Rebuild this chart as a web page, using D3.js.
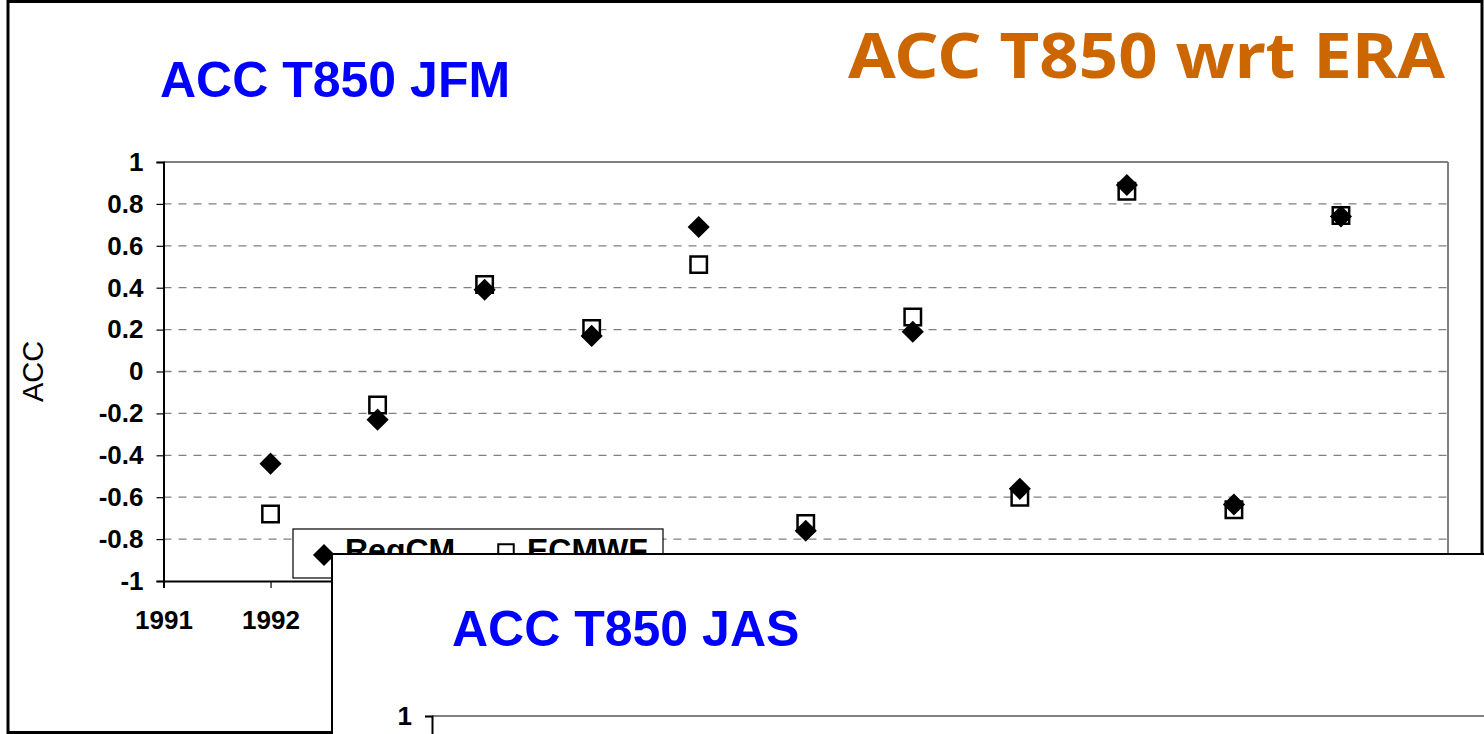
<!DOCTYPE html>
<html>
<head>
<meta charset="utf-8">
<script src="https://cdn.jsdelivr.net/npm/d3@7"></script>
<style>
  body { margin: 0; background: #fff; }
  svg { display: block; }
</style>
</head>
<body>
<div id="chart"></div>
<script>
// values
var years  = [1992, 1993, 1994, 1995, 1996, 1997, 1998, 1999, 2000, 2001, 2002];
var regcm  = [-0.44, -0.23, 0.39, 0.17, 0.69, -0.76, 0.19, -0.56, 0.89, -0.635, 0.74];
var ecmwf  = [-0.68, -0.16, 0.415, 0.205, 0.51, -0.725, 0.26, -0.60, 0.86, -0.66, 0.745];
var yTicks = [1, 0.8, 0.6, 0.4, 0.2, 0, -0.2, -0.4, -0.6, -0.8, -1];
var yTickLabels = ["1", "0.8", "0.6", "0.4", "0.2", "0", "-0.2", "-0.4", "-0.6", "-0.8", "-1"];
var xTicks = [1991, 1992, 1993, 1994, 1995, 1996, 1997, 1998, 1999, 2000, 2001, 2002, 2003];
var seriesNames = ["RegCM", "ECMWF"];

var W = 1484, H = 734;
var FONT = "'Liberation Sans', Arial, sans-serif";
var P2_LEFT = 332, P2_TOP = 554;   // lower (JAS) slide covering the first one

var svg = d3.select("#chart").append("svg")
    .attr("width", W)
    .attr("height", H);

/* outer slide frame */
svg.append("rect")
  .attr("x", 8).attr("y", 1.5)
  .attr("width", 1474).attr("height", 731)
  .style("fill", "#fff")
  .style("stroke", "#000")
  .style("stroke-width", 3);

/* titles */
svg.append("text")
  .attr("x", 160).attr("y", 97)
  .style("font", "bold 50px " + FONT)
  .style("fill", "#0000ff")
  .text("ACC T850 JFM");

svg.append("text")
  .attr("x", 848).attr("y", 78)
  .attr("textLength", 597)
  .attr("lengthAdjust", "spacingAndGlyphs")
  .style("font", "bold 62px 'Comic Sans MS', 'Noto Sans', sans-serif")
  .style("fill", "#cc6600")
  .text("ACC T850 wrt ERA");

/* top panel scales */
var x = d3.scaleLinear().domain([1991, 2003]).range([163.5, 1448]),
    y = d3.scaleLinear().domain([-1, 1]).range([581, 162]);

var vis = svg.append("g");

/* dashed grid */
vis.selectAll(".grid")
  .data(yTicks.filter(function(d){ return d > -1 && d < 1; }))
  .enter().append("line")
  .attr("class", "grid")
  .attr("x1", x(1991)).attr("x2", x(2003))
  .attr("y1", y).attr("y2", y)
  .style("stroke", "#808080")
  .style("stroke-width", 1.3)
  .style("stroke-dasharray", "8,7");

/* plot frame: top and right in gray */
vis.append("line")
  .attr("x1", x(1991)).attr("x2", x(2003))
  .attr("y1", y(1)).attr("y2", y(1))
  .style("stroke", "#808080").style("stroke-width", 2);
vis.append("line")
  .attr("x1", x(2003)).attr("x2", x(2003))
  .attr("y1", y(1)).attr("y2", y(-1))
  .style("stroke", "#808080").style("stroke-width", 2);

/* y axis */
var yAxis = vis.append("g")
  .attr("transform", "translate(" + x(1991) + ",0)")
  .call(d3.axisLeft(y).tickValues(yTicks).tickSize(7).tickPadding(13)
        .tickFormat(function(d, i){ return yTickLabels[i]; }));
yAxis.select(".domain").style("stroke", "#000").style("stroke-width", 2);
yAxis.selectAll("line").style("stroke", "#000").style("stroke-width", 1.2);
yAxis.selectAll("text")
  .style("font", "bold 26px " + FONT)
  .style("fill", "#000");

/* x axis -- labels under the lower slide are hidden there anyway */
var xAxis = vis.append("g")
  .attr("transform", "translate(0," + y(-1) + ")")
  .call(d3.axisBottom(x).tickValues(xTicks).tickSize(7).tickPadding(23)
        .tickFormat(function(d){ return x(d) + 40 < P2_LEFT ? d3.format("d")(d) : ""; }));
xAxis.select(".domain").style("stroke", "#000").style("stroke-width", 2);
xAxis.selectAll("line").style("stroke", "#000").style("stroke-width", 1.2);
xAxis.selectAll("text")
  .style("font", "bold 26px " + FONT)
  .style("fill", "#000");

/* y label */
vis.append("text")
  .attr("transform", "translate(43," + y(0) + ") rotate(270)")
  .attr("text-anchor", "middle")
  .style("font", "29px " + FONT)
  .text("ACC");

/* markers: squares first, diamonds on top */
var square  = d3.symbol().type(d3.symbolSquare).size(270),
    diamond = d3.symbol().type(d3.symbolSquare).size(245);

vis.selectAll(".ecmwf")
  .data(years)
  .enter().append("path")
  .attr("class", "ecmwf")
  .attr("d", square)
  .attr("transform", function(d, i){ return "translate(" + x(d) + "," + y(ecmwf[i]) + ")"; })
  .style("fill", "#fff")
  .style("stroke", "#000")
  .style("stroke-width", 2.5);

vis.selectAll(".regcm")
  .data(years)
  .enter().append("path")
  .attr("class", "regcm")
  .attr("d", diamond)
  .attr("transform", function(d, i){ return "translate(" + x(d) + "," + y(regcm[i]) + ") rotate(45)"; })
  .style("fill", "#000");

/* legend */
var leg = svg.append("g").attr("transform", "translate(293,529)");
leg.append("rect")
  .attr("width", 370).attr("height", 49)
  .style("fill", "#fff")
  .style("stroke", "#000")
  .style("stroke-width", 1.2);
leg.append("path")
  .attr("d", diamond)
  .attr("transform", "translate(31,26) rotate(45)")
  .style("fill", "#000");
leg.append("text")
  .attr("x", 52).attr("y", 32)
  .style("font", "bold 32px " + FONT)
  .text(seriesNames[0]);
leg.append("path")
  .attr("d", d3.symbol().type(d3.symbolSquare).size(240))
  .attr("transform", "translate(213,23)")
  .style("fill", "#fff")
  .style("stroke", "#000")
  .style("stroke-width", 2);
leg.append("text")
  .attr("x", 234).attr("y", 32)
  .style("font", "bold 32px " + FONT)
  .text(seriesNames[1]);

/* second panel (JAS) laid over the first */
var p2 = svg.append("g");
p2.append("rect")
  .attr("x", P2_LEFT).attr("y", P2_TOP)
  .attr("width", 1200).attr("height", 260)
  .style("fill", "#fff")
  .style("stroke", "#000")
  .style("stroke-width", 2);

p2.append("text")
  .attr("x", 452).attr("y", 646)
  .style("font", "bold 50px " + FONT)
  .style("fill", "#0000ff")
  .text("ACC T850 JAS");

var x2 = d3.scaleLinear().domain([1991, 2003]).range([432, 1716]),
    y2 = d3.scaleLinear().domain([-1, 1]).range([1135, 716]);

p2.append("line")
  .attr("x1", x2(1991)).attr("x2", x2(2003))
  .attr("y1", y2(1)).attr("y2", y2(1))
  .style("stroke", "#808080").style("stroke-width", 2);

// only the ticks that fall inside the window
var visibleTicks = yTicks.filter(function(d){ return y2(d) < H - 8; });
var yAxis2 = p2.append("g")
  .attr("transform", "translate(" + x2(1991) + ",0)")
  .call(d3.axisLeft(y2).tickValues(visibleTicks).tickSize(7).tickPadding(13)
        .tickFormat(function(d){ return yTickLabels[yTicks.indexOf(d)]; }));
yAxis2.select(".domain").style("stroke", "#000").style("stroke-width", 2);
yAxis2.selectAll("line").style("stroke", "#000").style("stroke-width", 1.2);
yAxis2.selectAll("text")
  .style("font", "bold 26px " + FONT)
  .style("fill", "#000");
</script>
</body>
</html>
